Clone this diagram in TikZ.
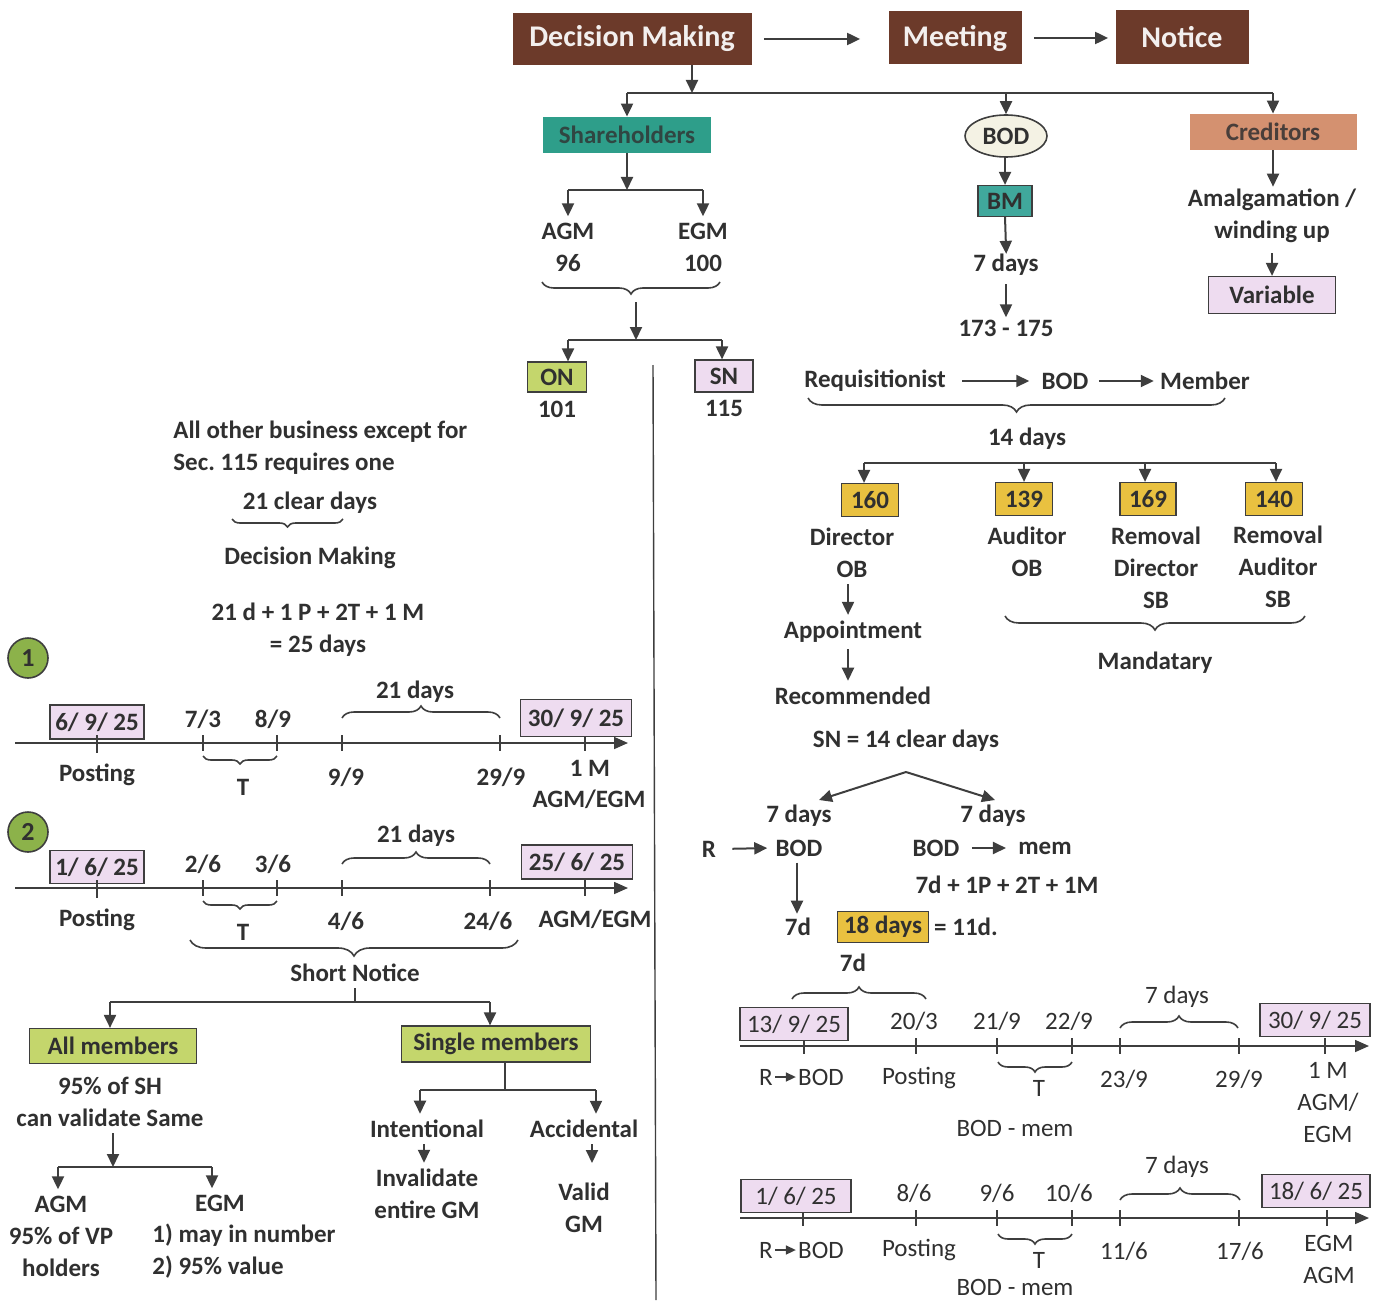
\documentclass[tikz,border=0pt]{standalone}
\usepackage{fontspec}
\setmainfont{Carlito}
\frenchspacing
\usetikzlibrary{arrows.meta,decorations.pathreplacing,shapes.geometric,calc}
\definecolor{ink}{RGB}{48,48,48}
\definecolor{wire}{RGB}{62,62,62}
\definecolor{brownbox}{RGB}{108,58,42}
\definecolor{tealbox}{RGB}{46,158,138}
\definecolor{bmteal}{RGB}{64,168,156}
\definecolor{credit}{RGB}{212,145,112}
\definecolor{cream}{RGB}{244,242,228}
\definecolor{lilac}{RGB}{238,220,240}
\definecolor{lime}{RGB}{196,214,108}
\definecolor{gold}{RGB}{233,193,64}
\definecolor{disc}{RGB}{140,178,74}
\tikzset{
  tx/.style={font=\fontsize{12.5}{16}\selectfont\bfseries, text=ink, inner xsep=2pt, inner ysep=3pt, align=center},
  rg/.style={font=\fontsize{12.5}{16}\selectfont, text=ink, inner xsep=2pt, inner ysep=3pt, align=center},
  ttl/.style={fill=brownbox, text=white!92!brownbox, font=\fontsize{15}{18}\selectfont\bfseries, inner sep=0pt},
  plainbox/.style={tx, inner sep=0pt},
  tagbox/.style={tx, draw=wire, line width=0.6pt, inner sep=0pt},
  datebox/.style={tagbox, fill=lilac, minimum height=16.5pt},
  rdatebox/.style={datebox, font=\fontsize{12.5}{16}\selectfont},
  goldbox/.style={tagbox, fill=gold, minimum width=28.5pt, minimum height=16.5pt},
  disk/.style={circle, draw=wire, line width=0.8pt, fill=disc, minimum size=20pt, inner sep=0pt,
    font=\fontsize{13}{15}\selectfont\bfseries, text=ink},
  arr/.style={wire, line width=1pt, -{Triangle[length=6.5pt,width=6pt]}},
  sarr/.style={wire, line width=0.8pt, -{Triangle[length=5pt,width=4.5pt]}},
  ln/.style={wire, line width=1pt},
  brc/.style={wire, line width=0.8pt, decorate, decoration={brace, amplitude=#1}},
  brc/.default=6pt,
  axis/.style={wire, line width=0.8pt, -{Triangle[length=7pt,width=6pt]}},
  tick/.style={wire, line width=0.8pt},
}
\begin{document}
\begin{tikzpicture}[x=0.5pt,y=-0.5pt]
\useasboundingbox (0,0) rectangle (1385,1300);

% ---------- header row ----------
\node[ttl, minimum width=119.5pt, minimum height=26pt] (dm) at (632,39) {Decision Making};
\node[ttl, minimum width=66.5pt, minimum height=26.5pt] (meet) at (955,38) {Meeting};
\node[ttl, minimum width=66.5pt, minimum height=27pt] (notice) at (1182,37) {Notice};
\draw[arr, shorten <=6pt, shorten >=14pt] (dm.east) -- (dm.east -| meet.west);
\draw[arr, shorten <=6pt, shorten >=3.5pt] (meet.east) -- (meet.east -| notice.west);

% ---------- three groups ----------
\node[plainbox, fill=tealbox, text=ink!80!tealbox, minimum width=84pt, minimum height=18pt] (sh) at (627,135) {Shareholders};
\node[ellipse, draw=wire, fill=cream, line width=0.8pt, minimum width=41pt, minimum height=21pt, inner sep=0pt, tx] (bod) at (1006,136) {BOD};
\node[plainbox, fill=credit, text=ink!85!credit, minimum width=83.5pt, minimum height=18pt] (cred) at (1273,132) {Creditors};
\coordinate (split) at (692,93);
\draw[arr] (dm.south -| split) -- (split);
\draw[ln] (sh.north |- split) -- (cred.north |- split);
\draw[arr] (sh.north |- split) -- (sh.north);
\draw[arr] (bod.north |- split) -- (bod.north);
\draw[arr] (cred.north |- split) -- (cred.north);

% ---------- shareholders branch ----------
\node[tx] (agm) at (568,231) {AGM};
\node[tx] (egm) at (703,231) {EGM};
\node[tx] (s96) at (568,263) {96};
\node[tx] (s100) at (703,263) {100};
\coordinate (shf) at (627,190);
\draw[arr] (sh.south) -- (shf);
\draw[ln] (agm.north |- shf) -- (egm.north |- shf);
\draw[arr] (agm.north |- shf) -- (agm.north);
\draw[arr] (egm.north |- shf) -- (egm.north);
\draw[brc=6pt] (720,282) -- (542,282);
\coordinate (brtip) at (636,302);
\coordinate (onf) at (636,340);
\draw[arr] (brtip) -- (onf);
\node[tagbox, fill=lime, minimum width=29.5pt, minimum height=15pt] (on) at (557,377) {ON};
\node[tagbox, fill=lilac, minimum width=29pt, minimum height=16pt] (sn) at (724,376) {SN};
\node[tx] (s101) at (557,409) {101};
\node[tx] (s115) at (724,408) {115};
\coordinate (onx) at (568,340);
\coordinate (snx) at (722,340);
\draw[ln] (onx) -- (snx);
\draw[arr] (onx) -- (onx |- on.north);
\draw[arr] (snx) -- (snx |- sn.north);

% ---------- board branch ----------
\node[tagbox, fill=bmteal, minimum width=27pt, minimum height=15.5pt] (bm) at (1005,201) {BM};
\node[tx] (bm7) at (1006,265) {7 days};
\node[tx] (bmsec) at (1006,328) {173 - 175};
\draw[arr] (bod.south -| bm.north) -- (bm.north);
\draw[arr, shorten >=-3pt] (bm.south) -- (bm7.north);
\draw[arr, shorten <=1pt, shorten >=-2pt] (bm7.south) -- (bmsec.north);

% ---------- creditors branch ----------
\node[tx] (amal) at (1272,216) {Amalgamation /\\winding up};
\node[tagbox, fill=lilac, minimum width=63.5pt, minimum height=18.5pt] (var) at (1272,295) {Variable};
\draw[arr, shorten >=-2pt] (cred.south) -- (cred.south |- amal.north);
\draw[arr, shorten <=2pt, shorten >=0pt] (amal.south) -- (var.north);

% ---------- requisition ----------
\node[tx] (req) at (875,381) {Requisitionist};
\node[tx] (rbod) at (1065,381) {BOD};
\node[tx] (rmem) at (1205,381) {Member};
\draw[arr, shorten <=6pt, shorten >=4pt] (req.east) -- (rbod.west);
\draw[arr, shorten <=3pt, shorten >=1pt] (rbod.east) -- (rmem.west);
\draw[brc=7pt] (1225,398) -- (808,398);
\node[tx] (d14) at (1027,439) {14 days};

\node[goldbox] (g160) at (870,500) {160};
\node[goldbox] (g139) at (1024,499) {139};
\node[goldbox, minimum width=28pt] (g169) at (1148,499) {169};
\node[goldbox] (g140) at (1274,499) {140};
\coordinate (gf) at (1070,463);
\coordinate (gx1) at (864,463);
\coordinate (gx3) at (1145,463);
\coordinate (gx4) at (1276,463);
\draw[ln] (gx1) -- (gx4);
\draw[arr] (gx1) -- (gx1 |- g160.north);
\draw[arr] (g139.north |- gf) -- (g139.north);
\draw[arr] (gx3) -- (gx3 |- g169.north);
\draw[arr] (gx4) -- (gx4 |- g140.north);

\node[tx] (dir) at (852,553) {Director\\OB};
\node[tx] (appt) at (853,632) {Appointment};
\node[tx] (recm) at (853,696) {Recommended};
\draw[arr] (dir.south -| 848,0) -- (appt.north -| 848,0);
\draw[arr] (appt.south -| 848,0) -- (recm.north -| 848,0);
\node[tx] (aud) at (1027,552) {Auditor\\OB};
\node[tx] (rdir) at (1156,568) {Removal\\Director\\SB};
\node[tx] (raud) at (1278,567) {Removal\\Auditor\\SB};
\draw[brc=7pt] (1305,616) -- (1005,616);
\node[tx] (mand) at (1155,663) {Mandatary};

% ---------- special notice timing ----------
\node[tx] (sn14) at (906,741) {SN = 14 clear days};
\coordinate (apex) at (906,772);
\coordinate (leftend) at (819,800);
\coordinate (rightend) at (995,800);
\draw[arr] (apex) -- (leftend);
\draw[arr] (apex) -- (rightend);
\node[tx] (sd1) at (799,816) {7 days};
\node[tx] (sd2) at (993,816) {7 days};
\node[tx] (rr) at (709,849) {R};
\node[tx] (rb) at (799,848) {BOD};
\node[tx] (bb) at (936,848) {BOD};
\node[tx] (bmem) at (1045,848) {mem};
\draw[arr, shorten <=6pt, shorten >=2pt] (rr.east) -- (rb.west);
\draw[arr, shorten <=4pt, shorten >=4pt] (bb.east) -- (bmem.west);
\node[tx] (form2) at (1007,885) {7d + 1P + 2T + 1M};
\node[tx] (d7a) at (798,927) {7d};
\draw[arr, shorten >=-1pt] (rb.south -| 797,0) -- (d7a.north -| 797,0);
\node[goldbox, minimum width=45.5pt, minimum height=15.5pt] (g18) at (883,927) {18 days};
\node[tx] (eq) at (966,927) {= 11d.};
\node[tx] (d7b) at (853,963) {7d};

% ---------- timeline 3 ----------
\draw[brc=6pt] (792,999) -- (926,999);
\draw[axis] (740,1046) -- (1369,1046);
\foreach \x in {804,916,997,1072,1120,1239,1325} \draw[tick] (\x,1038) -- (\x,1054);
\node[rdatebox, minimum width=54pt] (t3a) at (794,1024) {13/ 9/ 25};
\node[rdatebox, minimum width=55pt] (t3b) at (1315,1020) {30/ 9/ 25};
\node[rg] at (914,1021) {20/3};
\node[rg] at (997,1021) {21/9};
\node[rg] at (1069,1021) {22/9};
\draw[brc=6pt] (1120,1028) -- (1238,1028);
\node[rg] at (1177,997) {7 days};
\node[rg] (t3r) at (766,1077) {R};
\node[rg] (t3bod) at (821,1077) {BOD};
\draw[sarr, shorten <=-1pt, shorten >=-1pt] (t3r.east) -- (t3bod.west);
\node[rg] at (919,1078) {Posting};
\draw[brc=5pt] (1072,1062) -- (998,1062);
\node[rg] at (1039,1088) {T};
\node[rg] at (1124,1079) {23/9};
\node[rg] at (1239,1079) {29/9};
\node[rg] at (1328,1103) {1 M\\AGM/\\EGM};
\node[rg] at (1015,1128) {BOD - mem};

% ---------- timeline 4 ----------
\draw[axis] (740,1218) -- (1369,1218);
\foreach \x in {803,916,997,1072,1120,1239,1327} \draw[tick] (\x,1210) -- (\x,1226);
\node[rdatebox, minimum width=55pt] (t4a) at (796,1196) {1/ 6/ 25};
\node[rdatebox, minimum width=54pt] (t4b) at (1316,1191) {18/ 6/ 25};
\node[rg] at (914,1193) {8/6};
\node[rg] at (997,1193) {9/6};
\node[rg] at (1069,1193) {10/6};
\draw[brc=6pt] (1120,1200) -- (1240,1200);
\node[rg] at (1177,1167) {7 days};
\node[rg] (t4r) at (766,1250) {R};
\node[rg] (t4bod) at (821,1250) {BOD};
\draw[sarr, shorten <=-1pt, shorten >=-1pt] (t4r.east) -- (t4bod.west);
\node[rg] at (919,1250) {Posting};
\draw[brc=5pt] (1072,1234) -- (998,1234);
\node[rg] at (1039,1260) {T};
\node[rg] at (1124,1251) {11/6};
\node[rg] at (1240,1251) {17/6};
\node[rg] at (1329,1259) {EGM\\AGM};
\node[rg] at (1015,1287) {BOD - mem};

% ---------- divider ----------
\draw[wire, line width=0.7pt] (653,365) -- (656,1300);

% ---------- ordinary notice, left column ----------
\node[tx, align=left, anchor=west] (biz) at (169,448) {All other business except for\\Sec. 115 requires one};
\node[tx] (clear) at (310,503) {21 clear days};
\draw[brc=4pt] (343,519) -- (232,519);
\node[tx] (dmk) at (310,558) {Decision Making};
\node[tx] (form1) at (318,630) {21 d + 1 P + 2T + 1 M\\= 25 days};

% timeline 1
\node[disk] (c1) at (28,658) {1};
\draw[brc=6pt] (342,718) -- (500,718);
\node[tx] at (415,692) {21 days};
\draw[axis] (15,743) -- (628,743);
\foreach \x in {203,277,342,500,585} \draw[tick] (\x,735) -- (\x,751);
\node[datebox, minimum width=47pt, minimum height=17pt] (t1a) at (97,722) {6/ 9/ 25};
\draw[tick] (97,735) -- (97,753);
\node[datebox, minimum width=55.5pt, minimum height=18.5pt] (t1b) at (576,718) {30/ 9/ 25};
\node[tx] at (203,719) {7/3};
\node[tx] at (273,719) {8/9};
\node[tx] at (97,775) {Posting};
\draw[brc=4pt] (277,756) -- (203,756);
\node[tx] at (243,787) {T};
\node[tx] at (346,777) {9/9};
\node[tx] at (501,777) {29/9};
\node[tx] at (590,768) {1 M};
\node[tx] at (589,799) {AGM/EGM};

% timeline 2
\node[disk] (c2) at (28,832) {2};
\draw[brc=6pt] (342,864) -- (490,864);
\node[tx] at (416,836) {21 days};
\draw[axis] (15,888) -- (628,888);
\foreach \x in {203,277,342,490,585} \draw[tick] (\x,880) -- (\x,896);
\node[datebox, minimum width=47pt, minimum height=16.5pt] (t2a) at (97,867) {1/ 6/ 25};
\draw[tick] (97,880) -- (97,898);
\node[datebox, minimum width=55.5pt, minimum height=17pt] (t2b) at (577,862) {25/ 6/ 25};
\node[tx] at (203,864) {2/6};
\node[tx] at (273,864) {3/6};
\node[tx] at (97,920) {Posting};
\draw[brc=4pt] (277,901) -- (203,901);
\node[tx] at (243,932) {T};
\node[tx] at (346,921) {4/6};
\node[tx] at (488,921) {24/6};
\node[tx] at (595,919) {AGM/EGM};
\draw[brc=8pt] (518,940) -- (190,940);
\node[tx] (short) at (355,973) {Short Notice};

% ---------- short notice consent ----------
\node[tagbox, fill=lime, minimum width=83.5pt, minimum height=17.5pt] (allm) at (113,1046) {All members};
\node[tagbox, fill=lime, minimum width=94.5pt, minimum height=18pt] (single) at (496,1044) {Single members};
\coordinate (snf) at (355,1002);
\coordinate (allx) at (110,1002);
\coordinate (sngx) at (490,1002);
\draw[ln] (short.south) -- (snf);
\draw[ln] (allx) -- (sngx);
\draw[arr] (allx) -- (allx |- allm.north);
\draw[arr] (sngx) -- (sngx |- single.north);

\node[tx] (sh95) at (110,1102) {95\% of SH\\can validate Same};
\coordinate (allf) at (113,1167);
\draw[arr] (sh95.south -| allf) -- (allf);
\node[tx] (agm2) at (61,1236) {AGM\\95\% of VP\\holders};
\node[tx] (egm2) at (220,1203) {EGM};
\node[tx, align=left, anchor=west] (egmc) at (148,1251) {1) may in number\\2) 95\% value};
\coordinate (ax) at (58,1167);
\coordinate (ex) at (212,1167);
\draw[ln] (ax) -- (ex);
\draw[arr] (ax) -- (ax |- agm2.north);
\draw[arr] (ex) -- (ex |- egm2.north);

\node[tx] (intl) at (427,1129) {Intentional};
\node[tx] (acc) at (584,1129) {Accidental};
\coordinate (sgf) at (505,1090);
\coordinate (ix) at (420,1090);
\coordinate (acx) at (596,1090);
\draw[ln] (single.south -| sgf) -- (sgf);
\draw[ln] (ix) -- (acx);
\draw[arr] (ix) -- (ix |- intl.north);
\draw[arr] (acx) -- (acx |- acc.north);
\node[tx] (inv) at (427,1194) {Invalidate\\entire GM};
\node[tx] (valid) at (584,1208) {Valid\\GM};
\draw[arr] (intl.south -| 424,0) -- (inv.north -| 424,0);
\draw[arr] (acc.south -| 592,0) -- (592,1163);
\end{tikzpicture}
\end{document}
